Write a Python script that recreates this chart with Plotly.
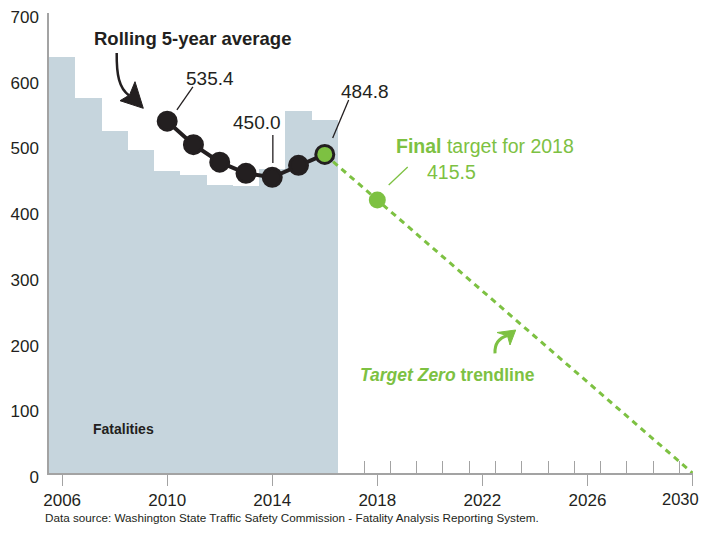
import plotly.graph_objects as go

# ---------------- data ----------------
years = [2006, 2007, 2008, 2009, 2010, 2011, 2012, 2013, 2014, 2015, 2016]
fatalities = [633, 571, 521, 492, 460, 454, 438, 436, 462, 551, 537]

avg_years = [2010, 2011, 2012, 2013, 2014, 2015, 2016]
rolling_avg = [535.4, 499.6, 473.0, 456.0, 450.0, 468.2, 484.8]

trend_years = [2016, 2030]
trend_values = [484.8, 0]

target_year = [2018]
target_value = [415.5]

x_ticks = [2006, 2010, 2014, 2018, 2022, 2026, 2030]
x_tick_labels = ["2006", "2010", "2014", "2018", "2022", "2026", "2030"]
y_ticks = [0, 100, 200, 300, 400, 500, 600, 700]

# ---------------- style ----------------
FONT = "Liberation Sans, Arial, Helvetica, sans-serif"
DARK = "#231f20"
GREEN = "#7dc142"
BAR = "#c6d5dd"
AXIS = "#a3a3a3"

# page body has an 8px margin; figure sized to fit the window
W, H = 701, 525
ML, MT = 41, 5
PW, PH = 644, 460
MR, MB = W - ML - PW, H - MT - PH
XR = [2005.5, 2030.02]
YR = [0, 700]
SX0, SY0 = 49, 473  # screen position of plot's bottom-left corner


def dx(px):
    return XR[0] + (px - SX0) * (XR[1] - XR[0]) / PW


def dy(py):
    return YR[0] + (SY0 - py) * (YR[1] - YR[0]) / PH


def path(cmds):
    out = []
    for c in cmds:
        if isinstance(c, str):
            out.append(c)
        else:
            out.append(f"{dx(c[0]):.4f},{dy(c[1]):.4f}")
    return " ".join(out)


fig = go.Figure()

fig.add_trace(go.Bar(x=years, y=fatalities, width=1, marker=dict(color=BAR, line=dict(width=0)),
                     hoverinfo="skip"))

fig.add_trace(go.Scatter(x=trend_years, y=trend_values, mode="lines", cliponaxis=False,
                         line=dict(color=GREEN, width=3, dash="6px,5px"), hoverinfo="skip"))

fig.add_trace(go.Scatter(x=target_year, y=target_value, mode="markers",
                         marker=dict(color=GREEN, size=17, line=dict(width=0))))

fig.add_trace(go.Scatter(
    x=avg_years, y=rolling_avg, mode="lines+markers",
    line=dict(color=DARK, width=4),
    marker=dict(size=18, color=[DARK] * (len(avg_years) - 1) + [GREEN],
                line=dict(color=DARK, width=3)),
))

shapes = []


def leader(xa, ya, x0, y0, x1, y1, color):
    shapes.append(dict(type="line", xref="x", yref="y", xsizemode="pixel", ysizemode="pixel",
                       xanchor=xa, yanchor=ya, x0=x0, y0=y0, x1=x1, y1=y1,
                       line=dict(color=color, width=1.3)))


leader(avg_years[0], rolling_avg[0], 9.7, 11.2, 25.7, 34.2, DARK)
leader(avg_years[4], rolling_avg[4], 0.6, 14.3, 0.6, 42.3, DARK)
leader(avg_years[6], rolling_avg[6], 7.9, 16.5, 23.9, 54.5, DARK)
leader(target_year[0], target_value[0], 11.4, 15, 30.4, 33, GREEN)

# curved arrow: Rolling 5-year average
shapes.append(dict(type="path", xref="x", yref="y",
                   path=path(["M", (116.7, 53), "C", (116.5, 75), (119, 88), (129, 95.5)]),
                   line=dict(color=DARK, width=2.5)))
shapes.append(dict(type="path", xref="x", yref="y",
                   path=path(["M", (143.3, 108.3), "L", (120, 100.7), "L", (129.5, 95),
                              "L", (135, 81.7), "Z"]),
                   fillcolor=DARK, line=dict(color=DARK, width=1)))
# curved arrow: Target Zero trendline
shapes.append(dict(type="path", xref="x", yref="y",
                   path=path(["M", (495, 353.3), "C", (494.5, 344), (499, 338), (507.5, 335.5)]),
                   line=dict(color=GREEN, width=3)))
shapes.append(dict(type="path", xref="x", yref="y",
                   path=path(["M", (515.7, 330), "L", (497, 332.5), "L", (507.5, 335.8),
                              "L", (510, 345), "Z"]),
                   fillcolor=GREEN, line=dict(color=GREEN, width=1)))

annotations = [
    dict(x=dx(92), y=dy(38), xref="x", yref="y", xanchor="left", yanchor="middle", showarrow=False,
         text="<b>Rolling 5-year average</b>", font=dict(family=FONT, size=18.5, color=DARK)),
    dict(x=avg_years[0], y=rolling_avg[0], xshift=43, yshift=43, showarrow=False,
         text=f"{rolling_avg[0]:.1f}", font=dict(family=FONT, size=19, color=DARK)),
    dict(x=avg_years[4], y=rolling_avg[4], xshift=-15.5, yshift=55, showarrow=False,
         text=f"{rolling_avg[4]:.1f}", font=dict(family=FONT, size=19, color=DARK)),
    dict(x=avg_years[6], y=rolling_avg[6], xshift=40, yshift=63, showarrow=False,
         text=f"{rolling_avg[6]:.1f}", font=dict(family=FONT, size=19, color=DARK)),
    dict(x=target_year[0], y=target_value[0], xshift=17, yshift=54, xanchor="left", showarrow=False,
         text="<b>Final</b> target for 2018", font=dict(family=FONT, size=19.5, color=GREEN)),
    dict(x=target_year[0], y=target_value[0], xshift=48, yshift=28, xanchor="left", showarrow=False,
         text=f"{target_value[0]:.1f}", font=dict(family=FONT, size=19.5, color=GREEN)),
    dict(x=dx(358), y=dy(375), xref="x", yref="y", xanchor="left", showarrow=False,
         text="<b><i>Target Zero</i> trendline</b>", font=dict(family=FONT, size=17.5, color=GREEN)),
    dict(x=dx(91), y=dy(429), xref="x", yref="y", xanchor="left", showarrow=False,
         text="<b>Fatalities</b>", font=dict(family=FONT, size=14, color=DARK)),
    dict(x=(43 - SX0) / PW, y=(SY0 - 526) / PH, xref="paper", yref="paper", xanchor="left",
         showarrow=False,
         text="Data source: Washington State Traffic Safety Commission - Fatality Analysis Reporting System.",
         font=dict(family=FONT, size=11.7, color=DARK)),
    # last x tick label, kept inside the page edge
    dict(x=(W - ML) / PW, y=(SY0 - 499) / PH, xref="paper", yref="paper", xanchor="right",
         yanchor="middle", xshift=-8, showarrow=False, text=x_tick_labels[-1],
         font=dict(family=FONT, size=16.5, color=DARK)),
]

fig.update_layout(
    width=W, height=H,
    margin=dict(l=ML, r=MR, t=MT, b=MB, pad=0),
    paper_bgcolor="white", plot_bgcolor="white",
    showlegend=False, bargap=0,
    font=dict(family=FONT, color=DARK),
    shapes=shapes, annotations=annotations,
    xaxis=dict(range=XR, tickvals=x_ticks, ticktext=x_tick_labels[:-1] + [""],
               ticks="outside", ticklen=11, tickwidth=1.3,
               tickcolor=AXIS, showline=True, linecolor=AXIS, linewidth=1.5,
               showgrid=False, zeroline=False, layer="below traces", automargin=False,
               tickfont=dict(family=FONT, size=17, color=DARK), ticklabeloverflow="allow",
               minor=dict(ticks="inside", ticklen=12, tickwidth=1.3, tickcolor=AXIS,
                          tick0=2005.5, dtick=1, showgrid=False)),
    yaxis=dict(range=YR, tickvals=y_ticks, ticks="inside", ticklen=17, tickwidth=1.3,
               tickcolor=AXIS, showline=True, linecolor=AXIS, linewidth=1.5,
               showgrid=False, zeroline=False, layer="below traces", automargin=False,
               tickfont=dict(family=FONT, size=17, color=DARK), ticklabelstandoff=5,
               ticklabelshift=4, ticklabeloverflow="allow"),
)

fig.write_html("out.html")
